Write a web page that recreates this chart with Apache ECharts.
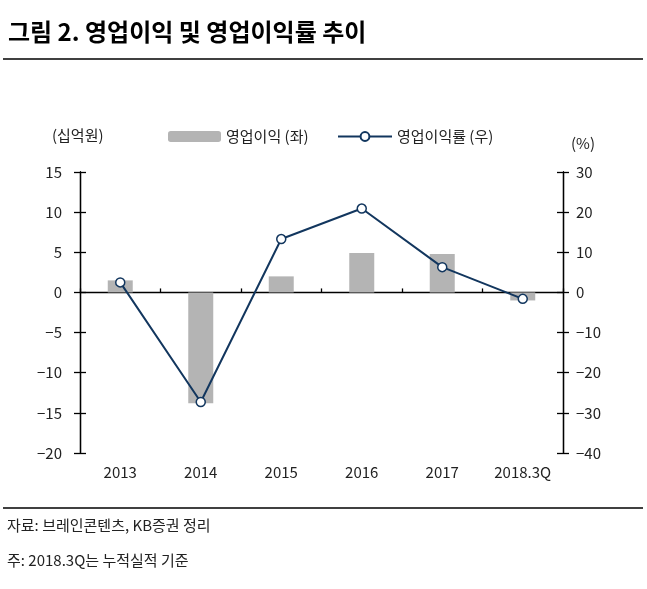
<!DOCTYPE html>
<html><head><meta charset="utf-8">
<script src="https://cdn.jsdelivr.net/npm/echarts@6/dist/echarts.min.js"></script>
<style>html,body{margin:0;padding:0;background:#fff}#c{width:647px;height:589px}</style>
</head><body><div id="c"></div>
<script>
var categories = ['2013','2014','2015','2016','2017','2018.3Q'];
var operatingProfit = [1.5, -13.8, 2.0, 4.9, 4.8, -1.0];
var operatingMargin = [2.5, -27.3, 13.3, 20.9, 6.3, -1.6];
var leftTicks = {min: -20, max: 15, interval: 5};
var rightTicks = {min: -40, max: 30, interval: 10};

var FONT = '"Noto Sans CJK KR", "Noto Sans", sans-serif';
var chart = echarts.init(document.getElementById('c'));
var axisCol = '#000';
function fmt(v){ return v < 0 ? '\u2212' + Math.abs(v) : String(v); }
function yAx(t, pos, inside, labels, margin){
  return {type:'value', position:pos, min:t.min, max:t.max, interval:t.interval,
    axisLine:{show:true, onZero:false, lineStyle:{color:axisCol, width:1.3}},
    axisTick:{show:true, inside:inside, length:6, lineStyle:{color:axisCol, width:1.3}},
    axisLabel:{show:labels, margin:margin, color:'#222', fontSize:15, fontFamily:FONT, formatter:fmt},
    splitLine:{show:false}};
}
chart.setOption({
  animation:false,
  textStyle:{fontFamily:FONT},
  title:[
    {text:'그림 2. 영업이익 및 영업이익률 추이', left:3, top:15,
     textStyle:{fontSize:24, fontWeight:'bold', color:'#000', fontFamily:FONT}},
    {text:'(십억원)', left:47, top:123, textStyle:{fontSize:15, fontWeight:'normal', color:'#222', fontFamily:FONT}},
    {text:'(%)', left:566, top:131, textStyle:{fontSize:15, fontWeight:'normal', color:'#222', fontFamily:FONT}},
    {text:'자료: 브레인콘텐츠, KB증권 정리', left:2, top:513, textStyle:{fontSize:15, fontWeight:'normal', color:'#222', fontFamily:FONT}},
    {text:'주: 2018.3Q는 누적실적 기준', left:2, top:548, textStyle:{fontSize:15, fontWeight:'normal', color:'#222', fontFamily:FONT}}
  ],
  graphic:[
    {type:'line', shape:{x1:3, y1:59, x2:643, y2:59}, style:{stroke:'#000', lineWidth:1.5}},
    {type:'line', shape:{x1:3, y1:508, x2:643, y2:508}, style:{stroke:'#000', lineWidth:1.5}}
  ],
  legend:[
    {data:['영업이익 (좌)'], left:163, top:124, itemWidth:53, itemHeight:11, itemGap:0,
     textStyle:{fontSize:15, color:'#222', fontFamily:FONT}},
    {data:['영업이익률 (우)'], left:332, top:124, itemWidth:54, itemHeight:11, itemGap:0,
     textStyle:{fontSize:15, color:'#222', fontFamily:FONT}}
  ],
  grid:{left:80, right:84, top:172, bottom:136},
  xAxis:[
    {type:'category', data:categories, position:'bottom',
     axisLine:{show:true, onZero:true, lineStyle:{color:axisCol, width:1.3}},
     axisTick:{show:true, inside:true, length:4, lineStyle:{color:axisCol, width:1.3}},
     axisLabel:{show:false}},
    {type:'category', data:categories, position:'bottom',
     axisLine:{show:false, onZero:false}, axisTick:{show:false},
     axisLabel:{show:true, margin:12, color:'#222', fontSize:15, fontFamily:FONT}}
  ],
  yAxis:[
    yAx(leftTicks, 'left', false, true, 18),
    yAx(rightTicks, 'right', false, true, 13),
    yAx(leftTicks, 'left', true, false, 8),
    yAx(rightTicks, 'right', true, false, 8)
  ],
  series:[
    {name:'영업이익 (좌)', type:'bar', data:operatingProfit, xAxisIndex:0, yAxisIndex:0,
     barWidth:25, itemStyle:{color:'#b4b4b4'}},
    {name:'영업이익률 (우)', type:'line', data:operatingMargin, xAxisIndex:0, yAxisIndex:1,
     symbol:'circle', symbolSize:9, showAllSymbol:true,
     lineStyle:{color:'#12365e', width:2},
     itemStyle:{color:'#fff', borderColor:'#12365e', borderWidth:1.5}, z:5}
  ]
});
</script></body></html>
